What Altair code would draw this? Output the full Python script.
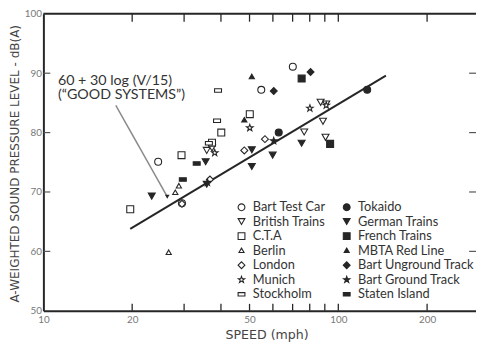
import altair as alt
import pandas as pd

# ---------------- data ----------------
series_order = ["Bart Test Car", "British Trains", "C.T.A", "Berlin", "London",
                "Munich", "Stockholm", "Tokaido", "German Trains", "French Trains",
                "MBTA Red Line", "Bart Unground Track", "Bart Ground Track",
                "Staten Island"]

bart_test_speed = [24.5, 29.5, 54.8, 70.1]
bart_test_db = [75.1, 68.1, 87.2, 91.1]
british_speed = [35.8, 37.3, 76.6, 87.1, 91.0, 88.7, 90.5]
british_db = [77.0, 77.4, 80.1, 85.1, 84.8, 81.9, 79.2]
cta_speed = [19.7, 29.4, 40.1, 50.1, 37.3]
cta_db = [67.1, 76.2, 80.0, 83.1, 78.3]
berlin_speed = [26.6, 28.0, 28.8]
berlin_db = [59.8, 69.9, 71.0]
london_speed = [48.0, 56.4, 36.7, 29.5]
london_db = [77.0, 78.9, 72.1, 68.0]
munich_speed = [38.1, 50.1, 80.1, 91.0]
munich_db = [76.6, 80.8, 84.1, 84.6]
stockholm_speed = [36.4, 38.8, 39.1]
stockholm_db = [78.2, 82.0, 87.1]
tokaido_speed = [62.8, 125.3]
tokaido_db = [80.0, 87.2]
german_speed = [23.3, 35.5, 35.8, 50.9, 50.9, 59.9, 75.1]
german_db = [69.3, 75.1, 71.3, 77.1, 74.3, 76.2, 78.2]
french_speed = [75.1, 93.8]
french_db = [89.1, 78.1]
mbta_speed = [50.9, 48.0]
mbta_db = [89.4, 82.1]
unground_speed = [60.4, 80.5]
unground_db = [87.0, 90.2]
ground_speed = [60.4, 36.0]
ground_db = [78.6, 71.6]
staten_speed = [29.7, 33.1]
staten_db = [72.1, 74.8]

fit_speed = [19.7, 145.0]
fit_db = [63.8, 89.6]

note_lines = ["60 + 30 log (V/15)", "(\u201cGOOD SYSTEMS\u201d)"]
note_speed = [11.2, 11.2]
note_db = [88.7, 86.4]
pointer_speed = [17.6, 26.3]
pointer_db = [84.6, 69.2]

x_tick_vals = [20, 30, 40, 50, 60, 70, 80, 90, 100, 200]
x_label_vals = [10, 20, 50, 100, 200]
y_tick_vals = [60, 70, 80, 90]
y_label_vals = [50, 60, 70, 80, 90, 100]

# ---------------- tables ----------------
groups = {
    "Bart Test Car": (bart_test_speed, bart_test_db),
    "British Trains": (british_speed, british_db),
    "C.T.A": (cta_speed, cta_db),
    "Berlin": (berlin_speed, berlin_db),
    "London": (london_speed, london_db),
    "Munich": (munich_speed, munich_db),
    "Stockholm": (stockholm_speed, stockholm_db),
    "Tokaido": (tokaido_speed, tokaido_db),
    "German Trains": (german_speed, german_db),
    "French Trains": (french_speed, french_db),
    "MBTA Red Line": (mbta_speed, mbta_db),
    "Bart Unground Track": (unground_speed, unground_db),
    "Bart Ground Track": (ground_speed, ground_db),
    "Staten Island": (staten_speed, staten_db),
}
rows = []
for name, (sp, db) in groups.items():
    for s, d in zip(sp, db):
        rows.append({"series": name, "speed": s, "db": d})
pts = pd.DataFrame(rows)

rect_path = "M-1,-0.5L1,-0.5L1,0.5L-1,0.5Z"
small_tri = "M0,-0.75L0.75,0.55L-0.75,0.55Z"
star_path = "M0,-1L0.24,-0.33L0.95,-0.31L0.38,0.12L0.59,0.81L0,0.4L-0.59,0.81L-0.38,0.12L-0.95,-0.31L-0.24,-0.33Z"
shape_map = {
    "Bart Test Car": "circle", "Tokaido": "circle",
    "British Trains": "triangle-down", "German Trains": "triangle-down",
    "C.T.A": "square", "French Trains": "square",
    "Berlin": small_tri, "MBTA Red Line": small_tri,
    "London": "diamond", "Bart Unground Track": "diamond",
    "Munich": star_path, "Bart Ground Track": star_path,
    "Stockholm": rect_path, "Staten Island": rect_path,
}
open_set = {"Bart Test Car", "British Trains", "C.T.A", "Berlin", "London", "Munich", "Stockholm"}
INK = "#262626"
shape_range = [shape_map[s] for s in series_order]
fill_range = ["white" if s in open_set else INK for s in series_order]
stroke_range = [INK for s in series_order]

W, H = 440, 302
FONT = "Lato"
TFONT = "DejaVu Sans"
xscale = alt.Scale(type="log", domain=[10, 293], nice=False)
yscale = alt.Scale(domain=[50, 100], nice=False)

x_axis = alt.Axis(values=x_label_vals, ticks=False, grid=False, domainWidth=2,
                  domainColor=INK, labelColor="#777", labelFont=FONT, labelFontSize=10,
                  labelPadding=4, title="SPEED  (mph)", titleFont=TFONT, titleFontSize=12.8,
                  titleFontWeight="normal", titleColor="#444",
                  titleX=227, titleY=24, titleBaseline="middle", titleAlign="center",
                  labelFlush=False)
y_axis = alt.Axis(values=y_label_vals, ticks=False, grid=False, domainWidth=2,
                  domainColor=INK, labelColor="#777", labelFont=FONT, labelFontSize=10,
                  labelPadding=2, title="A-WEIGHTED SOUND PRESSURE LEVEL  -  dB(A)",
                  titleFont=TFONT, titleFontSize=12.2, titleFontWeight="normal",
                  titleColor="#444", titleX=-29, titleY=152, titleBaseline="middle",
                  titleAlign="center", titleAngle=270, labelFlush=False)


def X(field):
    return alt.X(field, type="quantitative", scale=xscale, axis=x_axis)


def Y(field):
    return alt.Y(field, type="quantitative", scale=yscale, axis=y_axis)


legend = alt.Legend(orient="none", legendX=195, legendY=190, columns=2, title=None,
                    labelFont=FONT, labelFontSize=13, labelColor="#333",
                    symbolSize=48, rowPadding=0.8, columnPadding=15, labelOffset=5,
                    padding=0, symbolStrokeWidth=1.1)

points = alt.Chart(pts).mark_point(filled=True, strokeWidth=1.1, size=50, opacity=1).encode(
    x=X("speed"), y=Y("db"),
    shape=alt.Shape("series:N", scale=alt.Scale(domain=series_order, range=shape_range), legend=legend),
    fill=alt.Fill("series:N", scale=alt.Scale(domain=series_order, range=fill_range), legend=legend),
    stroke=alt.Stroke("series:N", scale=alt.Scale(domain=series_order, range=stroke_range), legend=legend),
)

fit = alt.Chart(pd.DataFrame({"speed": fit_speed, "db": fit_db})).mark_line(
    color=INK, strokeWidth=2).encode(x=X("speed"), y=Y("db"))

pointer = alt.Chart(pd.DataFrame({"speed": pointer_speed, "db": pointer_db})).mark_line(
    color="#8a8a8a", strokeWidth=1.5).encode(x=X("speed"), y=Y("db"))

arrow = alt.Chart(pd.DataFrame({"speed": pointer_speed[1:], "db": pointer_db[1:]})).mark_point(
    shape="triangle-down", filled=True, color=INK, size=22, opacity=1).encode(x=X("speed"), y=Y("db"))

note = alt.Chart(pd.DataFrame({"speed": note_speed, "db": note_db, "t": note_lines})).mark_text(
    align="left", baseline="middle", font=FONT, fontSize=14.5, color="#333").encode(
    x=X("speed"), y=Y("db"), text="t:N")

xt = pd.DataFrame({"speed": x_tick_vals})
yt = pd.DataFrame({"db": y_tick_vals})
tick_bottom = alt.Chart(xt).mark_rule(color=INK, strokeWidth=1.3).encode(
    x=X("speed"), y=alt.value(H), y2=alt.value(H - 7))
tick_top = alt.Chart(xt).mark_rule(color=INK, strokeWidth=1.3).encode(
    x=X("speed"), y=alt.value(0), y2=alt.value(8))
tick_left = alt.Chart(yt).mark_rule(color="#555", strokeWidth=1.2).encode(
    y=Y("db"), x=alt.value(0), x2=alt.value(7))
tick_right = alt.Chart(yt).mark_rule(color="#555", strokeWidth=1.2).encode(
    y=Y("db"), x=alt.value(W - 7), x2=alt.value(W))
top_line = alt.Chart(pd.DataFrame({"v": [1]})).mark_rule(color=INK, strokeWidth=2).encode(
    y=alt.value(0), x=alt.value(0), x2=alt.value(W))

chart = alt.layer(top_line, tick_bottom, tick_top, tick_left, tick_right,
                  pointer, fit, arrow, note, points).properties(
    width=W, height=H,
    autosize=alt.AutoSizeParams(type="none"),
    padding={"left": 36, "top": 3, "right": 0, "bottom": 37},
    background="white",
).configure_view(stroke=None)

chart.save("out.html", embed_options={"renderer": "svg", "actions": False})
